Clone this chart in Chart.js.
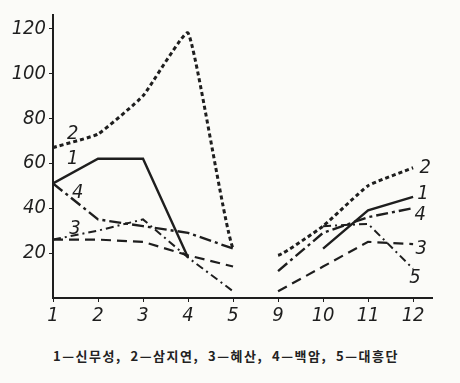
<!DOCTYPE html>
<html>
<head>
<meta charset="utf-8">
<script src="https://cdn.jsdelivr.net/npm/chart.js@4/dist/chart.umd.min.js"></script>
<style>
  body { margin:0; background:#fbfbf8; }
  #wrap { position:relative; width:460px; height:335px; }
  #caption { position:absolute; left:-4px; top:346px; width:460px; text-align:center;
    font-family:"Noto Sans CJK KR"; font-size:13px; font-weight:700; color:#222; letter-spacing:1.5px; white-space:pre; }
</style>
</head>
<body>
<div id="wrap"><canvas id="c" width="460" height="335"></canvas></div>
<div id="caption">1—신무성,  2—삼지연,  3—혜산,  4—백암,  5—대흥단</div>
<script>
let months = ["1","2","3","4","5","9","10","11","12"];
let s1 = [51, 62, 62, 18, null, null, 22, 39, 45];
let s2 = [67, 73, 90, 118, 22, 19, 32, 50, 58];
let s3 = [26, 26, 25, 19, 14, 3, 14, 25, 24];
let s4 = [51, 35, 32, 29, 22, 12, 29, 36, 40];
let s5 = [26, 30, 35, 18, 3, null, 32, 33, 13];
let yTicks = [20, 40, 60, 80, 100, 120];

// series number labels, in data coords
let marks = [
  ["2", 0.44, 73], ["1", 0.44, 62], ["4", 0.55, 47], ["3", 0.49, 31],
  ["2", 8.27, 58], ["1", 8.22, 46.5], ["4", 8.16, 37], ["3", 8.18, 22], ["5", 8.04, 9]
];

let ink = "#1e1e1e";
let fnt = "'Liberation Sans Narrow', 'DejaVu Sans Condensed', sans-serif";

function pts(arr){ return arr.map((v,i)=>({x:i, y:v})); }
// no line across the 5 -> 9 break
let noBreak = { borderColor: c => c.p0DataIndex === 4 ? "rgba(0,0,0,0)" : undefined };

function ds(arr, dash, w, tension){
  return { data: pts(arr), borderColor: ink, borderWidth: w, borderDash: dash,
    pointRadius: 0, tension: tension || 0, spanGaps: false, segment: noBreak };
}

let labelPlugin = {
  id: "labelPlugin",
  afterDatasetsDraw(chart){
    let ctx = chart.ctx, x = chart.scales.x, y = chart.scales.y;
    ctx.save();
    ctx.fillStyle = ink;
    ctx.font = "italic 20px " + fnt;
    ctx.textAlign = "center";
    ctx.textBaseline = "middle";
    marks.forEach(m => ctx.fillText(m[0], x.getPixelForValue(m[1]), y.getPixelForValue(m[2])));
    ctx.restore();
  }
};

new Chart(document.getElementById("c"), {
  type: "line",
  data: { datasets: [
    ds(s1, [], 2.4),
    ds(s2, [4, 3], 3, 0.12),
    ds(s3, [10, 6], 2.2),
    ds(s4, [12, 4, 3, 4], 2.4),
    ds(s5, [8, 4, 2, 4], 2)
  ]},
  options: {
    responsive: false,
    animation: false,
    layout: { padding: { top: 15, right: 28, left: 0, bottom: 0 } },
    plugins: { legend: { display: false }, tooltip: { enabled: false } },
    scales: {
      x: {
        type: "linear", min: 0, max: 8.42,
        afterBuildTicks: s => { s.ticks = months.map((m,i)=>({value:i})); },
        afterFit: s => { s.height = 37; },
        ticks: { callback: (v) => months[v], color: ink, padding: 2,
          font: { family: fnt, size: 20, style: "italic" } },
        grid: { drawOnChartArea: false, tickLength: 4, color: ink },
        border: { color: ink, width: 2 }
      },
      y: {
        min: 0, max: 126,
        afterBuildTicks: s => { s.ticks = yTicks.map(v=>({value:v})); },
        afterFit: s => { s.width = 53; },
        ticks: { color: ink, padding: 3, font: { family: fnt, size: 20, style: "italic" } },
        grid: { drawOnChartArea: false, tickLength: 4, color: ink },
        border: { color: ink, width: 2 }
      }
    }
  },
  plugins: [labelPlugin]
});
</script>
</body>
</html>
